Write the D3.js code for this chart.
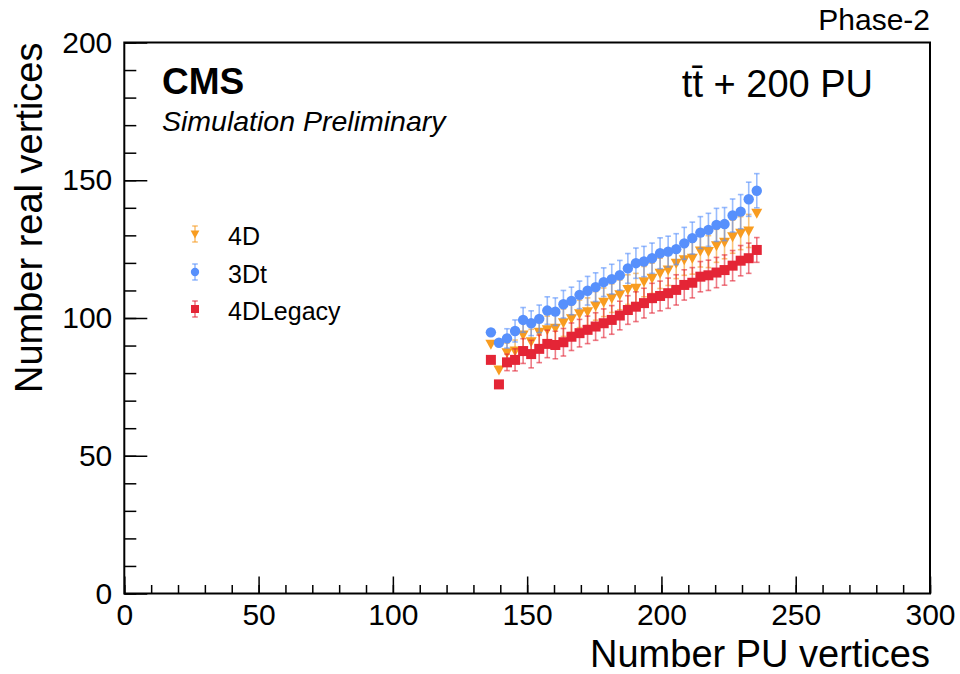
<!DOCTYPE html>
<html>
<head>
    <title>Number real vertices vs PU vertices</title>
    <script src="https://cdnjs.cloudflare.com/ajax/libs/d3/7.8.5/d3.min.js"></script>
    <style>
        body {
            margin: 0;
            background: white;
            font-family: "Liberation Sans", Arial, Helvetica, sans-serif;
        }
        .axis text {
            font-family: "Liberation Sans", Arial, Helvetica, sans-serif;
            font-size: 30px;
            fill: #000;
        }
        .axis line {
            stroke: #000;
            stroke-width: 1.5;
        }
    </style>
</head>
<body>
<div id="chart"></div>
<script>
// Data (bin centers of number of PU vertices)
const puVertices = [136.5, 139.5, 142.5, 145.5, 148.5, 151.5, 154.5, 157.5, 160.5, 163.5,
    166.5, 169.5, 172.5, 175.5, 178.5, 181.5, 184.5, 187.5, 190.5, 193.5,
    196.5, 199.5, 202.5, 205.5, 208.5, 211.5, 214.5, 217.5, 220.5, 223.5,
    226.5, 229.5, 232.5, 235.5];

const vals4D = [90.5, 81.1, 87.4, 88.0, 93.8, 91.4, 94.8, 95.7, 96.3, 98.3,
    99.7, 101.5, 102.3, 104.4, 105.7, 107.2, 108.4, 110.3, 110.8, 113.2,
    114.4, 116.2, 117.4, 119.9, 121.1, 121.7, 124.3, 124.1, 126.2, 127.5,
    129.5, 130.8, 131.6, 138.0];
const err4D = [0, 0, 3.5, 4, 4.5, 4.5, 5, 5, 5, 5,
    5, 5, 5, 5.2, 5.2, 5.2, 5.4, 5.4, 5.4, 5.5,
    5.5, 5.5, 5.6, 5.6, 5.6, 5.8, 5.8, 5.8, 6, 6,
    6, 6, 6, 0];

const vals3Dt = [94.8, 91.0, 92.6, 95.3, 99.3, 98.1, 99.7, 102.7, 102.3, 105.0,
    106.2, 108.4, 109.9, 111.2, 113.0, 114.1, 115.5, 118.0, 119.9, 120.5,
    121.7, 123.5, 124.1, 125.0, 127.1, 129.0, 131.0, 132.0, 133.8, 134.1,
    137.2, 138.6, 143.1, 146.2];
const err3Dt = [0, 0, 3.5, 4, 4.5, 4.5, 5, 5, 5, 5,
    5, 5, 5.2, 5.2, 5.2, 5.4, 5.4, 5.4, 5.5, 5.5,
    5.5, 5.6, 5.6, 5.6, 5.8, 5.8, 5.8, 6, 6, 6,
    6, 6.2, 6.2, 6.2];

const valsLegacy = [84.8, 75.9, 83.9, 84.8, 88.0, 86.9, 88.8, 90.6, 90.2, 91.2,
    93.2, 94.5, 95.7, 96.9, 98.1, 99.3, 100.9, 102.9, 104.1, 105.4,
    107.2, 108.0, 109.0, 110.2, 112.0, 112.8, 115.0, 115.5, 116.5, 117.4,
    119.0, 120.8, 121.7, 124.7];
const errLegacy = [0, 0, 3, 4, 4.5, 5, 5, 5, 5, 5,
    5, 5, 5, 5, 5.2, 5.2, 5.2, 5.2, 5.4, 5.4,
    5.4, 5.4, 5.5, 5.5, 5.5, 5.5, 5.5, 5.5, 5.5, 5.5,
    5.5, 5.5, 5.5, 4.5];

const xMajorTicks = [0, 50, 100, 150, 200, 250, 300];
const yMajorTicks = [0, 50, 100, 150, 200];

const series = [
    { name: '4D', values: vals4D, errors: err4D, color: '#f89c20', shape: 'tri' },
    { name: '3Dt', values: vals3Dt, errors: err3Dt, color: '#5790fc', shape: 'circle' },
    { name: '4DLegacy', values: valsLegacy, errors: errLegacy, color: '#e42536', shape: 'square' }
];

// Setup
const W = 960, H = 674;
const margin = { top: 42.5, right: 30, bottom: 80.5, left: 124.3 };
const width = W - margin.left - margin.right;
const height = H - margin.top - margin.bottom;

const svg = d3.select('#chart').append('svg')
    .attr('width', W)
    .attr('height', H);

const g = svg.append('g')
    .attr('transform', `translate(${margin.left},${margin.top})`);

const x = d3.scaleLinear().domain([0, 300]).range([0, width]);
const y = d3.scaleLinear().domain([0, 200]).range([height, 0]);

// Axes (ROOT style: ticks pointing inward)
g.append('g').attr('class', 'axis')
    .attr('transform', `translate(0,${height})`)
    .call(d3.axisBottom(x).tickValues(d3.range(0, 301, 10)).tickSizeInner(-8.5).tickSizeOuter(0).tickFormat(''))
    .call(a => a.select('.domain').remove());
g.append('g').attr('class', 'axis')
    .attr('transform', `translate(0,${height})`)
    .call(d3.axisBottom(x).tickValues(xMajorTicks).tickSizeInner(-17).tickSizeOuter(0).tickPadding(10).tickFormat(d3.format('d')))
    .call(a => a.select('.domain').remove());

g.append('g').attr('class', 'axis')
    .call(d3.axisLeft(y).tickValues(d3.range(0, 201, 10)).tickSizeInner(-12).tickSizeOuter(0).tickFormat(''))
    .call(a => a.select('.domain').remove());
g.append('g').attr('class', 'axis')
    .call(d3.axisLeft(y).tickValues(yMajorTicks).tickSizeInner(-23).tickSizeOuter(0).tickPadding(12).tickFormat(d3.format('d')))
    .call(a => a.select('.domain').remove());

// frame
g.append('rect')
    .attr('width', width)
    .attr('height', height)
    .attr('fill', 'none')
    .attr('stroke', '#000')
    .attr('stroke-width', 2);

// Markers
function drawMarker(sel, shape, color, k) {
    k = k || 1;
    if (shape === 'circle') {
        sel.append('circle').attr('r', 5.2 * k).attr('fill', color);
    } else if (shape === 'square') {
        sel.append('rect').attr('x', -5 * k).attr('y', -5 * k).attr('width', 10 * k).attr('height', 10 * k).attr('fill', color);
    } else {
        sel.append('path').attr('d', `M${-5.5 * k},${-4.5 * k} L${5.5 * k},${-4.5 * k} L0,${5.5 * k} Z`).attr('fill', color);
    }
}

function drawErrorBar(sel, top, bottom, color) {
    sel.append('line').attr('x1', 0).attr('x2', 0).attr('y1', top).attr('y2', bottom)
        .attr('stroke', color).attr('stroke-width', 1.6).attr('opacity', 0.6);
    [top, bottom].forEach(v => {
        sel.append('line').attr('x1', -2.8).attr('x2', 2.8).attr('y1', v).attr('y2', v)
            .attr('stroke', color).attr('stroke-width', 1.6).attr('opacity', 0.6);
    });
}

series.forEach(s => {
    const pts = puVertices.map((xv, i) => ({ x: xv, v: s.values[i], e: s.errors[i] }));
    const sg = g.append('g').attr('class', 'series');
    // error bars first
    pts.forEach(p => {
        if (p.e > 0) {
            const eg = sg.append('g').attr('transform', `translate(${x(p.x)},0)`);
            drawErrorBar(eg, y(p.v + p.e), y(p.v - p.e), s.color);
        }
    });
    pts.forEach(p => {
        const mg = sg.append('g').attr('transform', `translate(${x(p.x)},${y(p.v)})`);
        drawMarker(mg, s.shape, s.color);
    });
});

// Legend
const legendY = [236, 274, 311];
series.forEach((s, i) => {
    const lg = svg.append('g').attr('transform', `translate(195,${legendY[i] - 2})`);
    drawErrorBar(lg, -8, 8, s.color);
    drawMarker(lg, s.shape, s.color, 0.8);
    svg.append('text')
        .attr('x', 228)
        .attr('y', legendY[i])
        .attr('dy', '0.35em')
        .attr('font-size', 25)
        .text(s.name);
});

// Labels
svg.append('text')
    .attr('x', 162).attr('y', 94)
    .attr('font-size', 37).attr('font-weight', 'bold')
    .text('CMS');
svg.append('text')
    .attr('x', 162).attr('y', 131)
    .attr('font-size', 28.5).attr('font-style', 'italic')
    .text('Simulation Preliminary');
svg.append('text')
    .attr('x', 873).attr('y', 97)
    .attr('text-anchor', 'end')
    .attr('font-size', 38)
    .text('tt\u0304 + 200 PU');
svg.append('text')
    .attr('x', 930).attr('y', 30)
    .attr('text-anchor', 'end')
    .attr('font-size', 30)
    .text('Phase-2');

svg.append('text')
    .attr('x', margin.left + width).attr('y', 667)
    .attr('text-anchor', 'end')
    .attr('font-size', 38)
    .text('Number PU vertices');
svg.append('text')
    .attr('transform', `translate(42,${margin.top}) rotate(-90)`)
    .attr('text-anchor', 'end')
    .attr('font-size', 38)
    .text('Number real vertices');
</script>
</body>
</html>
